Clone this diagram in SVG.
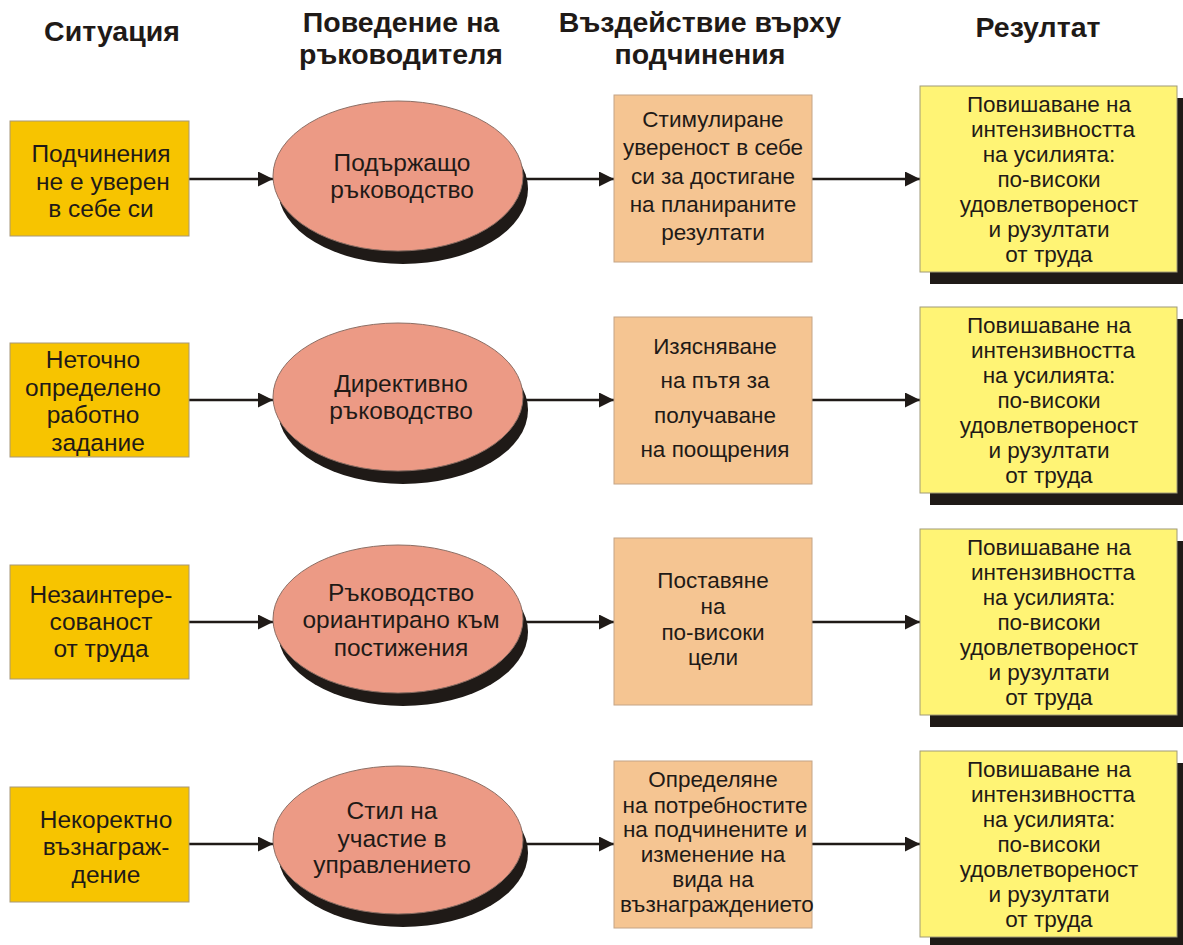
<svg xmlns="http://www.w3.org/2000/svg" width="1183" height="945" viewBox="0 0 1183 945">
<defs>
<style>
text{font-family:"Liberation Sans",Arial,sans-serif;fill:#1f1a17;text-anchor:middle}
.h{font-size:28.5px;font-weight:bold}
.t{font-size:22.5px}
.l{font-size:24.5px}
.sit{fill:#f7c400;stroke:#a89878;stroke-width:1}
.beh{fill:#ec9a85;stroke:#8c6e64;stroke-width:1}
.sh{fill:#1f1a17}
.eff{fill:#f5c592;stroke:#c4a486;stroke-width:1}
.res{fill:#fff475;stroke:#a09a78;stroke-width:1}
.c line{stroke:#1f1a17;stroke-width:2.5}
</style>
<marker id="ah" viewBox="0 0 10 10" refX="10" refY="5" markerWidth="6" markerHeight="6" markerUnits="strokeWidth" orient="auto">
<path d="M0,0 L10,5 L0,10 z" fill="#1f1a17"/>
</marker>
</defs>
<rect width="1183" height="945" fill="#ffffff"/>
<g id="headers">
<text class="h" x="112" y="41">Ситуация</text>
<text class="h" x="401" y="32">Поведение на</text>
<text class="h" x="401" y="64">ръководителя</text>
<text class="h" x="700" y="32">Въздействие върху</text>
<text class="h" x="700" y="64">подчинения</text>
<text class="h" x="1038" y="37">Резултат</text>
</g>
<g class="c" id="connectors">
<line x1="189" y1="179" x2="273" y2="179" marker-end="url(#ah)"/>
<line x1="523" y1="179" x2="614" y2="179" marker-end="url(#ah)"/>
<line x1="812" y1="179" x2="920" y2="179" marker-end="url(#ah)"/>
<line x1="189" y1="400" x2="273" y2="400" marker-end="url(#ah)"/>
<line x1="523" y1="400" x2="614" y2="400" marker-end="url(#ah)"/>
<line x1="812" y1="400" x2="920" y2="400" marker-end="url(#ah)"/>
<line x1="189" y1="622" x2="273" y2="622" marker-end="url(#ah)"/>
<line x1="523" y1="622" x2="614" y2="622" marker-end="url(#ah)"/>
<line x1="812" y1="622" x2="920" y2="622" marker-end="url(#ah)"/>
<line x1="189" y1="844" x2="273" y2="844" marker-end="url(#ah)"/>
<line x1="523" y1="844" x2="614" y2="844" marker-end="url(#ah)"/>
<line x1="812" y1="844" x2="920" y2="844" marker-end="url(#ah)"/>
</g>
<!-- Row 1 -->
<g id="sit1"><rect class="sit" x="10" y="121" width="179" height="115"/>
<text class="l" x="101" y="162">Подчинения</text><text class="l" x="103" y="190">не е уверен</text><text class="l" x="101" y="217">в себе си</text></g>
<g id="beh1"><ellipse class="sh" cx="403" cy="189" rx="125" ry="75"/><ellipse class="beh" cx="398" cy="176" rx="125" ry="75"/>
<text class="l" x="402" y="171">Подържащо</text><text class="l" x="402" y="198">ръководство</text></g>
<g id="eff1"><rect class="eff" x="614" y="95" width="198" height="167"/>
<text class="t" x="713" y="127">Стимулиране</text><text class="t" x="713" y="155">увереност в себе</text><text class="t" x="713" y="184">си за достигане</text><text class="t" x="713" y="212">на планираните</text><text class="t" x="713" y="240">резултати</text></g>
<g id="res1"><rect class="sh" x="930" y="98" width="257" height="186"/><rect class="res" x="920" y="86" width="257" height="186"/>
<text class="t" x="1049" y="112">Повишаване на</text><text class="t" x="1053" y="137">интензивността</text><text class="t" x="1049" y="162">на усилията:</text><text class="t" x="1049" y="187">по-високи</text><text class="t" x="1049" y="212">удовлетвореност</text><text class="t" x="1049" y="237">и рузултати</text><text class="t" x="1049" y="262">от труда</text></g>
<!-- Row 2 -->
<g id="sit2"><rect class="sit" x="10" y="343" width="179" height="114"/>
<text class="l" x="93" y="368">Неточно</text><text class="l" x="93" y="395.5">определено</text><text class="l" x="93" y="423">работно</text><text class="l" x="98" y="450.5">задание</text></g>
<g id="beh2"><ellipse class="sh" cx="403" cy="410" rx="125" ry="74"/><ellipse class="beh" cx="398" cy="397" rx="125" ry="74"/>
<text class="l" x="401" y="392">Директивно</text><text class="l" x="401" y="419">ръководство</text></g>
<g id="eff2"><rect class="eff" x="614" y="317" width="198" height="167"/>
<text class="t" x="715" y="354">Изясняване</text><text class="t" x="715" y="388">на пътя за</text><text class="t" x="715" y="423">получаване</text><text class="t" x="715" y="457">на поощрения</text></g>
<g id="res2"><rect class="sh" x="930" y="319" width="257" height="186"/><rect class="res" x="920" y="307" width="257" height="186"/>
<text class="t" x="1049" y="333">Повишаване на</text><text class="t" x="1053" y="358">интензивността</text><text class="t" x="1049" y="383">на усилията:</text><text class="t" x="1049" y="408">по-високи</text><text class="t" x="1049" y="433">удовлетвореност</text><text class="t" x="1049" y="458">и рузултати</text><text class="t" x="1049" y="483">от труда</text></g>
<!-- Row 3 -->
<g id="sit3"><rect class="sit" x="10" y="565" width="179" height="114"/>
<text class="l" x="101" y="603">Незаинтере-</text><text class="l" x="101" y="630">сованост</text><text class="l" x="101" y="657">от труда</text></g>
<g id="beh3"><ellipse class="sh" cx="403" cy="632" rx="125" ry="74"/><ellipse class="beh" cx="398" cy="619" rx="125" ry="74"/>
<text class="l" x="401" y="601">Ръководство</text><text class="l" x="401" y="628">ориантирано към</text><text class="l" x="401" y="656">постижения</text></g>
<g id="eff3"><rect class="eff" x="614" y="538" width="198" height="167"/>
<text class="t" x="713" y="588">Поставяне</text><text class="t" x="713" y="614">на</text><text class="t" x="713" y="640">по-високи</text><text class="t" x="713" y="665">цели</text></g>
<g id="res3"><rect class="sh" x="930" y="541" width="257" height="186"/><rect class="res" x="920" y="529" width="257" height="186"/>
<text class="t" x="1049" y="555">Повишаване на</text><text class="t" x="1053" y="580">интензивността</text><text class="t" x="1049" y="605">на усилията:</text><text class="t" x="1049" y="630">по-високи</text><text class="t" x="1049" y="655">удовлетвореност</text><text class="t" x="1049" y="680">и рузултати</text><text class="t" x="1049" y="705">от труда</text></g>
<!-- Row 4 -->
<g id="sit4"><rect class="sit" x="10" y="787" width="179" height="115"/>
<text class="l" x="106" y="828">Некоректно</text><text class="l" x="106" y="855">възнаграж-</text><text class="l" x="106" y="883">дение</text></g>
<g id="beh4"><ellipse class="sh" cx="403" cy="853" rx="125" ry="74"/><ellipse class="beh" cx="398" cy="840" rx="125" ry="74"/>
<text class="l" x="392" y="819">Стил на</text><text class="l" x="392" y="847">участие в</text><text class="l" x="392" y="873">управлението</text></g>
<g id="eff4"><rect class="eff" x="614" y="761" width="198" height="167"/>
<text class="t" x="713" y="787">Определяне</text><text class="t" x="715" y="813">на потребностите</text><text class="t" x="715" y="837">на подчинените и</text><text class="t" x="713" y="862">изменение на</text><text class="t" x="713" y="887">вида на</text><text class="t" x="717" y="912">възнаграждението</text></g>
<g id="res4"><rect class="sh" x="930" y="763" width="257" height="186"/><rect class="res" x="920" y="751" width="257" height="186"/>
<text class="t" x="1049" y="777">Повишаване на</text><text class="t" x="1053" y="802">интензивността</text><text class="t" x="1049" y="827">на усилията:</text><text class="t" x="1049" y="852">по-високи</text><text class="t" x="1049" y="877">удовлетвореност</text><text class="t" x="1049" y="902">и рузултати</text><text class="t" x="1049" y="927">от труда</text></g>
</svg>
